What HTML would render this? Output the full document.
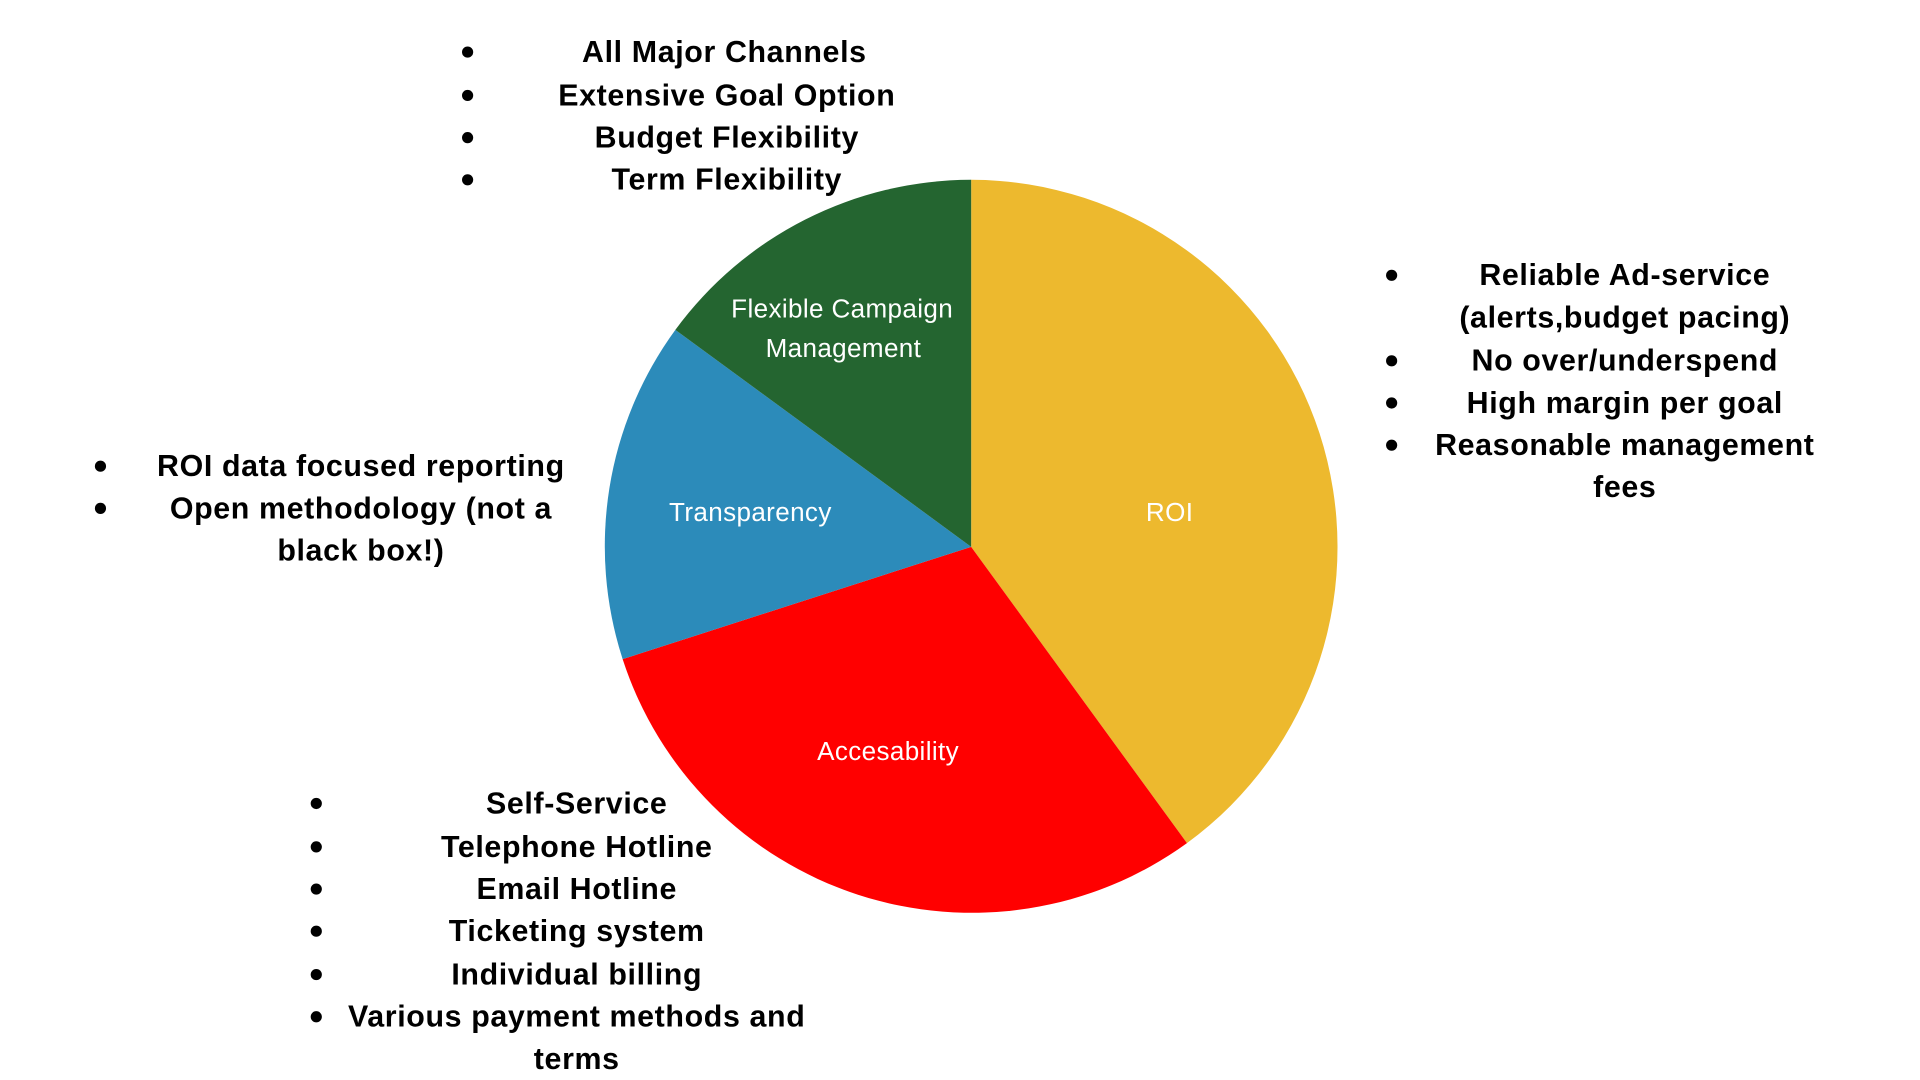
<!DOCTYPE html>
<html><head><meta charset="utf-8"><style>html,body{margin:0;padding:0;background:#fff;width:1920px;height:1080px;overflow:hidden}svg{display:block}</style></head><body>
<svg width="1920" height="1080" viewBox="0 0 1548 871" preserveAspectRatio="none" xmlns="http://www.w3.org/2000/svg">
<g stroke="none">
<path d="M783,441 L783,145 A296,296 0 0 1 957,680 Z" fill="#EDB92E"/>
<path d="M783,441 L957,680 A296,296 0 0 1 502,531.6 Z" fill="#FF0000"/>
<path d="M783,441 L502,531.6 A296,296 0 0 1 544.5,266 Z" fill="#2C8BBA"/>
<path d="M783,441 L544.5,266 A296,296 0 0 1 783,145 Z" fill="#246530"/>
</g>
<g font-family="Liberation Sans, sans-serif" font-size="21" fill="#fff" text-anchor="middle" letter-spacing="0.3">
<text x="679" y="256">Flexible Campaign</text>
<text x="680" y="288">Management</text>
<text x="605" y="420">Transparency</text>
<text x="943" y="420">ROI</text>
<text x="716" y="613">Accesability</text>
</g>
<g font-family="Liberation Sans, sans-serif" font-size="24.5" font-weight="bold" fill="#000" text-anchor="middle" letter-spacing="0.5">
<text x="584" y="50">All Major Channels</text>
<text x="586" y="85">Extensive Goal Option</text>
<text x="586" y="119">Budget Flexibility</text>
<text x="586" y="153">Term Flexibility</text>
<text x="1310" y="230">Reliable Ad-service</text>
<text x="1310" y="264">(alerts,budget pacing)</text>
<text x="1310" y="299">No over/underspend</text>
<text x="1310" y="333">High margin per goal</text>
<text x="1310" y="367">Reasonable management</text>
<text x="1310" y="401">fees</text>
<text x="291" y="384">ROI data focused reporting</text>
<text x="291" y="418">Open methodology (not a</text>
<text x="291" y="452">black box!)</text>
<text x="465" y="656">Self-Service</text>
<text x="465" y="691">Telephone Hotline</text>
<text x="465" y="725">Email Hotline</text>
<text x="465" y="759">Ticketing system</text>
<text x="465" y="794">Individual billing</text>
<text x="465" y="828">Various payment methods and</text>
<text x="465" y="862">terms</text>
</g>
<g fill="#000">
<circle cx="377" cy="42" r="4.5"/><circle cx="377" cy="77" r="4.5"/><circle cx="377" cy="111" r="4.5"/><circle cx="377" cy="145" r="4.5"/>
<circle cx="1122" cy="222" r="4.5"/><circle cx="1122" cy="291" r="4.5"/><circle cx="1122" cy="325" r="4.5"/><circle cx="1122" cy="359" r="4.5"/>
<circle cx="81" cy="376" r="4.5"/><circle cx="81" cy="410" r="4.5"/>
<circle cx="255" cy="648" r="4.5"/><circle cx="255" cy="683" r="4.5"/><circle cx="255" cy="717" r="4.5"/><circle cx="255" cy="751" r="4.5"/><circle cx="255" cy="786" r="4.5"/><circle cx="255" cy="820" r="4.5"/>
</g>
</svg>
</body></html>
